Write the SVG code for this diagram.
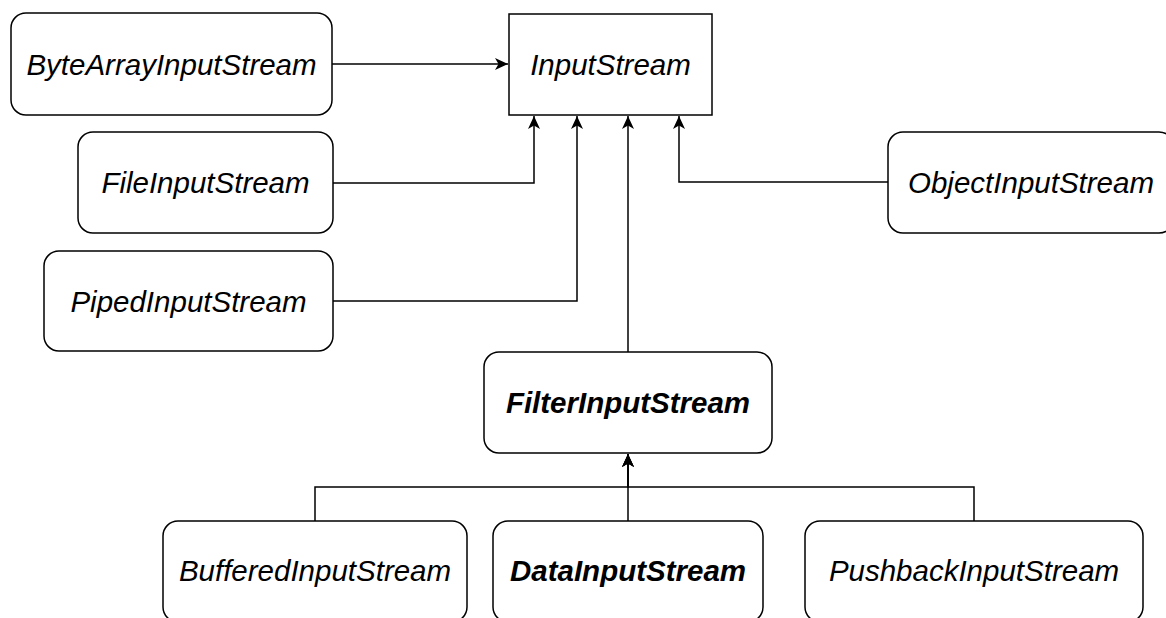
<svg xmlns="http://www.w3.org/2000/svg" width="1166" height="618" viewBox="0 0 1166 618">
<style>
.box{fill:#fff;stroke:#000;stroke-width:1.5}
.t{font-family:"Liberation Sans",Arial,sans-serif;font-size:29.5px;font-style:italic;text-anchor:middle;fill:#000}
.b{font-weight:bold}
.c{fill:none;stroke:#000;stroke-width:1.5}
</style>
<defs>
<marker id="arr" markerUnits="userSpaceOnUse" markerWidth="16" markerHeight="14" refX="13" refY="6" orient="auto" overflow="visible">
<path d="M0,0 L13,6 L0,12 L3.5,6 Z" fill="#000"/>
</marker>
</defs>
<rect width="1166" height="618" fill="#fff"/>
<g id="connectors">
<path class="c" d="M332,64 H508" marker-end="url(#arr)"/>
<path class="c" d="M333,183 H534 V116" marker-end="url(#arr)"/>
<path class="c" d="M333,301 H577 V116" marker-end="url(#arr)"/>
<path class="c" d="M628,352 V116" marker-end="url(#arr)"/>
<path class="c" d="M888,182 H679 V116" marker-end="url(#arr)"/>
<path class="c" d="M315,521 V487 H628 V454" marker-end="url(#arr)"/>
<path class="c" d="M628,521 V454" marker-end="url(#arr)"/>
<path class="c" d="M974,521 V487 H628 V454" marker-end="url(#arr)"/>
</g>
<g id="InputStream">
<rect class="box" x="509" y="14" width="203" height="101"/>
<text class="t" x="610.5" y="75">InputStream</text>
</g>
<g id="ByteArrayInputStream">
<rect class="box" x="11" y="13" width="321" height="102" rx="15"/>
<text class="t" x="171.5" y="75">ByteArrayInputStream</text>
</g>
<g id="FileInputStream">
<rect class="box" x="78" y="132" width="255" height="101" rx="15"/>
<text class="t" x="205.5" y="193">FileInputStream</text>
</g>
<g id="PipedInputStream">
<rect class="box" x="44" y="251" width="289" height="100" rx="15"/>
<text class="t" x="188.5" y="312">PipedInputStream</text>
</g>
<g id="ObjectInputStream">
<rect class="box" x="888" y="132" width="286" height="101" rx="15"/>
<text class="t" x="1031" y="193">ObjectInputStream</text>
</g>
<g id="FilterInputStream">
<rect class="box" x="484" y="352" width="288" height="101" rx="15"/>
<text class="t b" x="628" y="413">FilterInputStream</text>
</g>
<g id="BufferedInputStream">
<rect class="box" x="163" y="521" width="304" height="101" rx="15"/>
<text class="t" x="315" y="581">BufferedInputStream</text>
</g>
<g id="DataInputStream">
<rect class="box" x="493" y="521" width="270" height="101" rx="15"/>
<text class="t b" x="628" y="581">DataInputStream</text>
</g>
<g id="PushbackInputStream">
<rect class="box" x="805" y="521" width="338" height="101" rx="15"/>
<text class="t" x="974" y="581">PushbackInputStream</text>
</g>
</svg>
